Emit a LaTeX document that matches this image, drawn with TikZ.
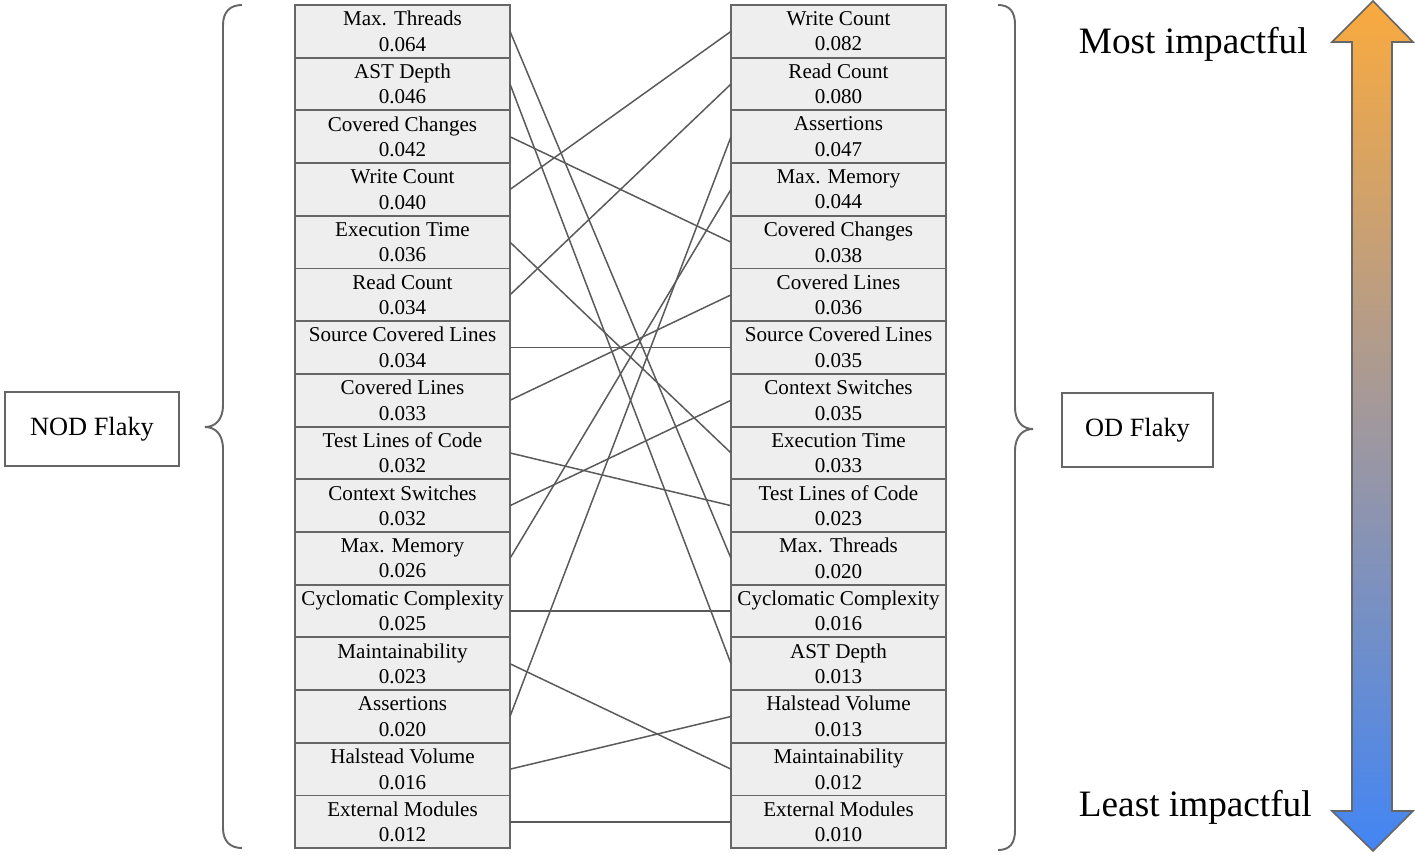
\documentclass[tikz,border=0pt]{standalone}
\usepackage{fontspec}
\setmainfont{Liberation Serif}
\usetikzlibrary{positioning}
\definecolor{boxgrey}{RGB}{102,102,102}
\definecolor{boxfill}{RGB}{238,238,238}
\definecolor{linkgrey}{RGB}{90,90,90}
\definecolor{impactorange}{RGB}{250,170,62}
\definecolor{impactmid}{RGB}{160,152,158}
\definecolor{impactblue}{RGB}{66,133,244}
\tikzset{
  feat/.style={draw=boxgrey, line width=1.1pt, fill=boxfill, outer sep=0pt, inner sep=0pt,
               minimum width=4.3cm, minimum height=1.054cm, align=center,
               font=\fontsize{12}{14.5}\selectfont},
  group/.style={draw=boxgrey, line width=0.8pt, fill=white, minimum height=1.48cm,
                font=\fontsize{15}{18}\selectfont},
  link/.style={linkgrey, line width=0.85pt},
  brace/.style={boxgrey, line width=1.1pt},
  impacttext/.style={font=\fontsize{21.2}{25}\selectfont, anchor=east, inner sep=0pt},
}
\begin{document}
\begin{tikzpicture}

\useasboundingbox (0,0) rectangle (28.3,-17.08);

% --- NOD flaky features ---
\node[feat] (nThreads)    at (8.05,  -0.627) {Max. Threads\\0.064};
\node[feat] (nAst)        at (8.05,  -1.681) {AST Depth\\0.046};
\node[feat] (nChanges)    at (8.05,  -2.735) {Covered Changes\\0.042};
\node[feat] (nWrite)      at (8.05,  -3.789) {Write Count\\0.040};
\node[feat] (nTime)       at (8.05,  -4.843) {Execution Time\\0.036};
\node[feat] (nRead)       at (8.05,  -5.897) {Read Count\\0.034};
\node[feat] (nSource)     at (8.05,  -6.951) {Source Covered Lines\\0.034};
\node[feat] (nCovered)    at (8.05,  -8.005) {Covered Lines\\0.033};
\node[feat] (nTestLoc)    at (8.05,  -9.059) {Test Lines of Code\\0.032};
\node[feat] (nContext)    at (8.05, -10.113) {Context Switches\\0.032};
\node[feat] (nMemory)     at (8.05, -11.167) {Max. Memory\\0.026};
\node[feat] (nCyclo)      at (8.05, -12.221) {Cyclomatic Complexity\\0.025};
\node[feat] (nMaint)      at (8.05, -13.275) {Maintainability\\0.023};
\node[feat] (nAssert)     at (8.05, -14.329) {Assertions\\0.020};
\node[feat] (nHalstead)   at (8.05, -15.383) {Halstead Volume\\0.016};
\node[feat] (nModules)    at (8.05, -16.437) {External Modules\\0.012};

% --- OD flaky features ---
\node[feat] (oWrite)      at (16.77,  -0.627) {Write Count\\0.082};
\node[feat] (oRead)       at (16.77,  -1.681) {Read Count\\0.080};
\node[feat] (oAssert)     at (16.77,  -2.735) {Assertions\\0.047};
\node[feat] (oMemory)     at (16.77,  -3.789) {Max. Memory\\0.044};
\node[feat] (oChanges)    at (16.77,  -4.843) {Covered Changes\\0.038};
\node[feat] (oCovered)    at (16.77,  -5.897) {Covered Lines\\0.036};
\node[feat] (oSource)     at (16.77,  -6.951) {Source Covered Lines\\0.035};
\node[feat] (oContext)    at (16.77,  -8.005) {Context Switches\\0.035};
\node[feat] (oTime)       at (16.77,  -9.059) {Execution Time\\0.033};
\node[feat] (oTestLoc)    at (16.77, -10.113) {Test Lines of Code\\0.023};
\node[feat] (oThreads)    at (16.77, -11.167) {Max. Threads\\0.020};
\node[feat] (oCyclo)      at (16.77, -12.221) {Cyclomatic Complexity\\0.016};
\node[feat] (oAst)        at (16.77, -13.275) {AST Depth\\0.013};
\node[feat] (oHalstead)   at (16.77, -14.329) {Halstead Volume\\0.013};
\node[feat] (oMaint)      at (16.77, -15.383) {Maintainability\\0.012};
\node[feat] (oModules)    at (16.77, -16.437) {External Modules\\0.010};

% --- rank changes ---
\draw[link] (nThreads.east)  -- (oThreads.west);
\draw[link] (nAst.east)      -- (oAst.west);
\draw[link] (nChanges.east)  -- (oChanges.west);
\draw[link] (nWrite.east)    -- (oWrite.west);
\draw[link] (nTime.east)     -- (oTime.west);
\draw[link] (nRead.east)     -- (oRead.west);
\draw[link] (nSource.east)   -- (oSource.west);
\draw[link] (nCovered.east)  -- (oCovered.west);
\draw[link] (nTestLoc.east)  -- (oTestLoc.west);
\draw[link] (nContext.east)  -- (oContext.west);
\draw[link] (nMemory.east)   -- (oMemory.west);
\draw[link] (nCyclo.east)    -- (oCyclo.west);
\draw[link] (nMaint.east)    -- (oMaint.west);
\draw[link] (nAssert.east)   -- (oAssert.west);
\draw[link] (nHalstead.east) -- (oHalstead.west);
\draw[link] (nModules.east)  -- (oModules.west);

% --- group labels and braces ---
\node[group, minimum width=3.48cm] (nod) at (1.84, -8.58) {NOD Flaky};
\node[group, minimum width=3.02cm] (od)  at (22.75, -8.6) {OD Flaky};

\draw[brace] (4.84,-0.1) .. controls (4.6,-0.1) and (4.46,-0.24) .. (4.46,-0.5)
  -- (4.46,-8.1) .. controls (4.46,-8.4) and (4.3,-8.54) .. (4.1,-8.54)
  .. controls (4.3,-8.54) and (4.46,-8.68) .. (4.46,-8.98)
  -- (4.46,-16.56) .. controls (4.46,-16.82) and (4.6,-16.96) .. (4.84,-16.96);

\draw[brace] (19.96,-0.1) .. controls (20.2,-0.1) and (20.3,-0.24) .. (20.3,-0.5)
  -- (20.3,-8.14) .. controls (20.3,-8.44) and (20.46,-8.58) .. (20.66,-8.58)
  .. controls (20.46,-8.58) and (20.3,-8.72) .. (20.3,-9.02)
  -- (20.3,-16.6) .. controls (20.3,-16.86) and (20.2,-17.0) .. (19.96,-17.0);

% --- impact scale ---
\draw[boxgrey, line width=0.9pt, top color=impactorange, bottom color=impactblue,
      middle color=impactmid]
  (27.46,-0.02) -- (28.26,-0.84) -- (27.84,-0.84) -- (27.84,-16.22) -- (28.26,-16.22)
  -- (27.46,-17.02) -- (26.64,-16.22) -- (27.04,-16.22) -- (27.04,-0.84) -- (26.64,-0.84)
  -- cycle;

\node[impacttext] (most)  at (26.16, -0.88)  {Most impactful};
\node[impacttext] (least) at (26.24, -16.14) {Least impactful};

\end{tikzpicture}
\end{document}
